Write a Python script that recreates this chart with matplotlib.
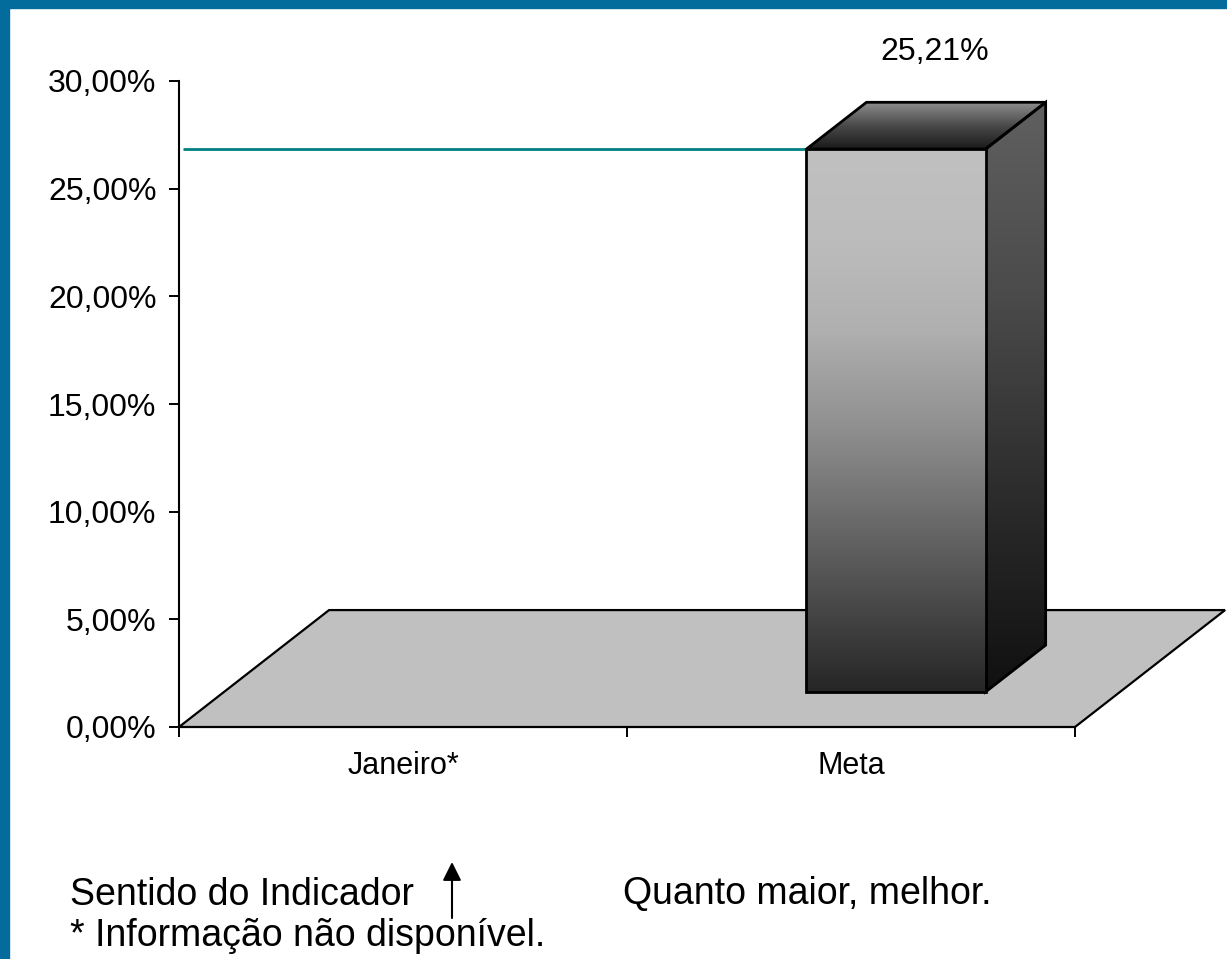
import numpy as np
import matplotlib
matplotlib.use("Agg")
import matplotlib.pyplot as plt
from matplotlib.patches import Polygon, Rectangle
from matplotlib.colors import LinearSegmentedColormap

plt.rcParams["font.family"] = ["Liberation Sans", "DejaVu Sans"]

# indicator data (January not available)
categories = ["Janeiro*", "Meta"]
values = [np.nan, 25.21]
value_labels = ["", "25,21%"]
yticks = [0, 5, 10, 15, 20, 25, 30]
ytick_labels = ["0,00%", "5,00%", "10,00%", "15,00%", "20,00%", "25,00%", "30,00%"]

W, H = 1227, 959
BLUE = "#046c9c"
TEAL = "#008080"

# oblique depth of the 3d floor, in data units
DEPTH_X = 0.335
DEPTH_Y = 5.43
BAR_W = 0.4
BAR_Z0, BAR_Z1 = 0.3, 0.7

fig = plt.figure(figsize=(W / 100, H / 100), dpi=100)
fig.patch.set_facecolor("white")

# blue frame along top and left
fig.patches.append(Rectangle((0, 1 - 8 / H), 1, 8 / H, transform=fig.transFigure,
                             color=BLUE, zorder=0))
fig.patches.append(Rectangle((0, 0), 9 / W, 1, transform=fig.transFigure,
                             color=BLUE, zorder=0))

ax = fig.add_axes([179 / W, (H - 727) / H, 896 / W, 646 / H])
ax.set_facecolor("none")


def grad_face(ax, verts, colors, zorder):
    """Fill a polygon with a vertical gradient (colors listed bottom to top)."""
    poly = Polygon(verts, closed=True, facecolor="none", edgecolor="black",
                   lw=2, joinstyle="miter", zorder=zorder + 0.5)
    ax.add_patch(poly)
    xs = [v[0] for v in verts]
    ys = [v[1] for v in verts]
    cmap = LinearSegmentedColormap.from_list("g", colors)
    grad = np.linspace(0, 1, 256).reshape(-1, 1)
    im = ax.imshow(grad, cmap=cmap, origin="lower", aspect="auto",
                   extent=(min(xs), max(xs), min(ys), max(ys)), zorder=zorder,
                   interpolation="bilinear")
    im.set_clip_path(poly)


# floor
n = len(categories)
floor = Polygon([(0, 0), (n, 0), (n + DEPTH_X, DEPTH_Y), (DEPTH_X, DEPTH_Y)],
                closed=True, facecolor="#c0c0c0", edgecolor="black", lw=1.6,
                clip_on=False, zorder=1)
ax.add_patch(floor)

for i, (cat, val, lab) in enumerate(zip(categories, values, value_labels)):
    if np.isnan(val):
        continue
    xc = i + 0.5
    x0 = xc - BAR_W / 2 + BAR_Z0 * DEPTH_X
    x1 = xc + BAR_W / 2 + BAR_Z0 * DEPTH_X
    yb = BAR_Z0 * DEPTH_Y
    yt = yb + val
    bx = (BAR_Z1 - BAR_Z0) * DEPTH_X
    by = (BAR_Z1 - BAR_Z0) * DEPTH_Y

    # side, top, front faces
    grad_face(ax, [(x1, yb), (x1 + bx, yb + by), (x1 + bx, yt + by), (x1, yt)],
              ["#101010", "#2c2c2c", "#4a4a4a", "#606060"], 3)
    grad_face(ax, [(x0, yt), (x1, yt), (x1 + bx, yt + by), (x0 + bx, yt + by)],
              ["#1a1a1a", "#4a4a4a", "#8e8e8e"], 3)
    grad_face(ax, [(x0, yb), (x1, yb), (x1, yt), (x0, yt)],
              ["#262626", "#4a4a4a", "#6e6e6e", "#929292", "#b0b0b0", "#bcbcbc", "#c0c0c0"], 4)

    # reference line at the bar's front top
    ax.plot([0.01, x0], [yt, yt], color=TEAL, lw=2, solid_capstyle="butt", zorder=2)

    ax.annotate(lab, xy=((x0 + x1) / 2 + bx / 2, yt + by), xytext=(6, 36),
                textcoords="offset points", ha="center", va="center", fontsize=23)

ax.set_xlim(0, n)
ax.set_ylim(0, 30)
ax.set_yticks(yticks, ytick_labels)
ax.set_xticks(range(n + 1), [""] * (n + 1))
ax.set_xticks([i + 0.5 for i in range(n)], categories, minor=True)
ax.tick_params(axis="y", length=7.2, width=1.4, pad=9, labelsize=23, direction="out")
ax.tick_params(axis="x", which="major", length=7.2, width=1.4, direction="out")
ax.tick_params(axis="x", which="minor", length=0, pad=17, labelsize=22)
for s in ("top", "right", "bottom"):
    ax.spines[s].set_visible(False)
ax.spines["left"].set_linewidth(1.5)
ax.spines["left"].set_zorder(5)

# footer notes
fig.text(70 / W, 1 - 905 / H, "Sentido do Indicador", fontsize=27, va="baseline")
fig.text(623 / W, 1 - 904 / H, "Quanto maior, melhor.", fontsize=27, va="baseline")
fig.text(70 / W, 1 - 946 / H, "* Informação não disponível.", fontsize=27, va="baseline")
ax.annotate("", xy=(452, H - 862), xytext=(452, H - 918), xycoords="figure pixels",
            textcoords="figure pixels",
            arrowprops=dict(arrowstyle="-|>", color="black", lw=1.5, mutation_scale=28,
                            shrinkA=0, shrinkB=0))

fig.savefig("out.png", dpi=100)
